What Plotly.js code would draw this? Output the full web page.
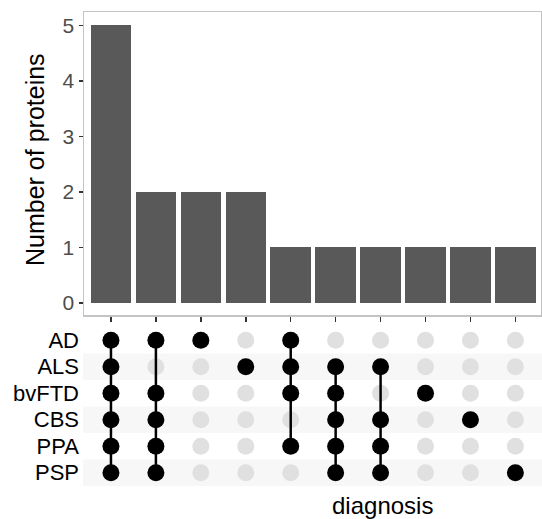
<!DOCTYPE html>
<html>
<head>
<meta charset="utf-8">
<script src="https://cdn.plot.ly/plotly-3.0.1.min.js"></script>
<style>html,body{margin:0;padding:0;background:#fff;overflow:hidden;}</style>
</head>
<body>
<div id="chart" style="width:542px;height:519px;"></div>
<script>
const sets = ['AD', 'ALS', 'bvFTD', 'CBS', 'PPA', 'PSP'];
const counts = [5, 2, 2, 2, 1, 1, 1, 1, 1, 1];
const intersections = [
  ['AD', 'ALS', 'bvFTD', 'CBS', 'PPA', 'PSP'],
  ['AD', 'bvFTD', 'CBS', 'PPA', 'PSP'],
  ['AD'],
  ['ALS'],
  ['AD', 'ALS', 'bvFTD', 'PPA'],
  ['ALS', 'bvFTD', 'CBS', 'PPA', 'PSP'],
  ['ALS', 'CBS', 'PPA', 'PSP'],
  ['bvFTD'],
  ['CBS'],
  ['PSP']
];
const yTicks = [0, 1, 2, 3, 4, 5];
const xTitle = 'diagnosis';
const yTitle = 'Number of proteins';

const W = 542, H = 519;
const px = v => v / W;
const py = v => 1 - v / H;
const FONT = 'Liberation Sans, Arial, Helvetica, sans-serif';

const cols = counts.map((_, i) => i + 1);
const rowIdx = s => sets.indexOf(s);

const gx = [], gy = [], bx = [], by = [];
const lx = [], ly = [];
intersections.forEach((mem, i) => {
  const c = cols[i];
  sets.forEach((s, r) => {
    if (mem.includes(s)) { bx.push(c); by.push(r); }
    else { gx.push(c); gy.push(r); }
  });
  if (mem.length > 1) {
    const rs = mem.map(rowIdx);
    lx.push(c, c, null);
    ly.push(Math.min(...rs), Math.max(...rs), null);
  }
});

const traces = [
  {type: 'bar', x: cols, y: counts, xaxis: 'x', yaxis: 'y',
   marker: {color: '#595959', line: {width: 0}}, width: 0.9, hoverinfo: 'skip'},
  {type: 'scatter', mode: 'markers', x: gx, y: gy, xaxis: 'x2', yaxis: 'y2',
   marker: {color: '#e0e0e0', size: 17}, hoverinfo: 'skip'},
  {type: 'scatter', mode: 'lines', x: lx, y: ly, xaxis: 'x2', yaxis: 'y2',
   line: {color: '#000000', width: 2.5}, hoverinfo: 'skip', connectgaps: false},
  {type: 'scatter', mode: 'markers', x: bx, y: by, xaxis: 'x2', yaxis: 'y2',
   marker: {color: '#000000', size: 17}, hoverinfo: 'skip'}
];

const xDom = [px(84), px(541)];
const xRange = [0.4, 10.57];

const shapes = [];
sets.forEach((s, r) => {
  if (r % 2 === 1) {
    shapes.push({type: 'rect', xref: 'paper', yref: 'y2', x0: px(83), x1: 1,
      y0: r - 0.5, y1: r + 0.5, fillcolor: '#f7f7f7', line: {width: 0}, layer: 'below'});
  }
});

const layout = {
  width: W, height: H,
  margin: {l: 0, r: 0, t: 0, b: 0},
  paper_bgcolor: '#ffffff', plot_bgcolor: 'rgba(0,0,0,0)',
  showlegend: false,
  font: {family: FONT, color: '#000'},
  bargap: 0,
  xaxis: {domain: xDom, range: xRange, anchor: 'y',
    showgrid: false, zeroline: false, showline: true, mirror: true,
    linecolor: '#c4c4c4', linewidth: 1.5,
    tickmode: 'array', tickvals: cols, showticklabels: false,
    ticks: 'outside', ticklen: 5, tickwidth: 1.5, tickcolor: '#333333'},
  yaxis: {domain: [py(315), py(12)], range: [-0.22, 5.24], anchor: 'x',
    showgrid: false, zeroline: false, showline: true, mirror: true,
    linecolor: '#c4c4c4', linewidth: 1.5,
    tickmode: 'array', tickvals: yTicks, ticktext: yTicks.map(String),
    ticks: 'outside', ticklen: 4, tickwidth: 1.5, tickcolor: '#333333',
    tickfont: {family: FONT, size: 21, color: '#4d4d4d'}},
  xaxis2: {domain: xDom, range: xRange, anchor: 'y2',
    showgrid: false, zeroline: false, showline: false, showticklabels: false, ticks: ''},
  yaxis2: {domain: [py(486), py(327)], range: [5.5, -0.5], anchor: 'x2',
    showgrid: false, zeroline: false, showline: false,
    tickmode: 'array', tickvals: sets.map((_, i) => i), ticktext: sets,
    ticks: '', ticklabelstandoff: 4,
    tickfont: {family: FONT, size: 22, color: '#000000'}},
  shapes: shapes,
  annotations: [
    {text: yTitle, xref: 'paper', yref: 'paper', x: px(35), y: py(160),
     xanchor: 'center', yanchor: 'middle', textangle: -90, showarrow: false,
     font: {family: FONT, size: 25, color: '#000'}},
    {text: xTitle, xref: 'paper', yref: 'paper', x: px(382), y: py(505),
     xanchor: 'center', yanchor: 'middle', showarrow: false,
     font: {family: FONT, size: 24, color: '#000'}}
  ]
};

Plotly.newPlot('chart', traces, layout, {displayModeBar: false, staticPlot: true});
</script>
</body>
</html>
